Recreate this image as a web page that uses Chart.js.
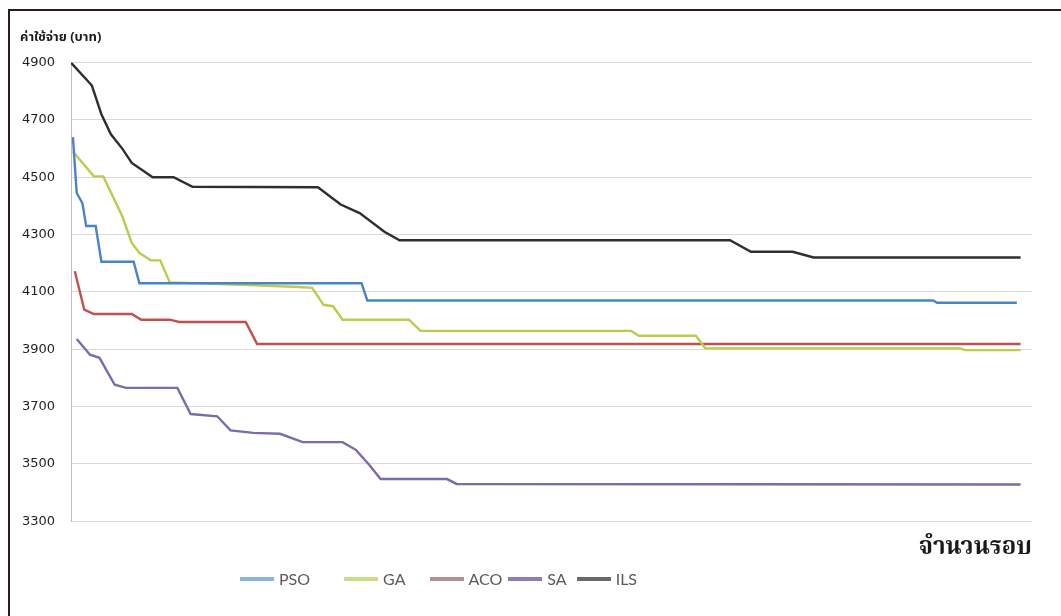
<!DOCTYPE html>
<html>
<head>
<meta charset="utf-8">
<script src="https://cdn.jsdelivr.net/npm/chart.js@4.4.1/dist/chart.umd.min.js"></script>
<style>
  html, body { margin: 0; padding: 0; background: #fff; }
  #wrap { position: relative; width: 1061px; height: 616px; overflow: hidden; }
  #frame { position: absolute; left: 8px; top: 9px; right: -4px; bottom: -4px;
           border-left: 2px solid #2b1b1d; border-top: 2px solid #2b1b1d; pointer-events: none; }
  #legend { position: absolute; top: 569px; left: 240px; display: flex; align-items: center;
            font-family: Lato, 'Open Sans', sans-serif; font-size: 16px; color: #5a5a5a; }
  #legend .item { display: flex; align-items: center; }
  #legend .sw { width: 34px; height: 4px; margin-right: 5px; }
</style>
</head>
<body>
<div id="wrap">
  <canvas id="chart" width="1061" height="616"></canvas>
  <div id="frame"></div>
  <div id="legend"></div>
</div>
<script>
/* ── Data (iteration, best cost) ─────────────────────────── */
const seriesNames = ['PSO', 'GA', 'ACO', 'SA', 'ILS'];
const yTicks = [3300, 3500, 3700, 3900, 4100, 4300, 4500, 4700, 4900];

const psoIter = [1, 3, 6, 8, 13, 16, 33, 36, 153, 156, 454, 456, 498];
const psoCost = [4640, 4445, 4410, 4330, 4330, 4205, 4205, 4130, 4130, 4070, 4070, 4062, 4062];

const gaIter = [1, 12, 17, 27, 32, 36, 42, 47, 52, 90, 120, 127, 133, 138, 143, 178, 184, 295, 299, 329, 334, 468, 471, 500];
const gaCost = [4590, 4503, 4503, 4364, 4271, 4236, 4210, 4210, 4133, 4125, 4117, 4114, 4055, 4050, 4003, 4003, 3964, 3964, 3947, 3947, 3903, 3903, 3897, 3897];

const acoIter = [2, 7, 12, 32, 37, 52, 57, 92, 98, 500];
const acoCost = [4172, 4038, 4023, 4023, 4003, 4003, 3995, 3995, 3918, 3918];

const saIter = [3, 10, 15, 23, 29, 56, 63, 77, 84, 96, 110, 122, 143, 150, 157, 163, 198, 203, 500];
const saCost = [3936, 3881, 3870, 3776, 3765, 3765, 3674, 3666, 3617, 3608, 3605, 3576, 3576, 3549, 3497, 3447, 3447, 3430, 3428];

const ilsIter = [0, 11, 16, 21, 27, 32, 43, 54, 64, 130, 142, 152, 165, 173, 347, 358, 380, 391, 500];
const ilsCost = [4900, 4820, 4720, 4650, 4600, 4550, 4500, 4500, 4467, 4465, 4405, 4375, 4310, 4280, 4280, 4240, 4240, 4220, 4220];

const lineColors = ['#4a84c6', '#bccb4c', '#c0504d', '#7d6aaa', '#2e2e2e'];
const legendColors = ['#8fb2dc', '#c9dc86', '#b48f8c', '#8d7cbc', '#6a6a6a'];

function pairs(xs, ys) {
  return xs.map((x, i) => ({ x, y: ys[i] }));
}

const allSeries = [
  pairs(psoIter, psoCost),
  pairs(gaIter, gaCost),
  pairs(acoIter, acoCost),
  pairs(saIter, saCost),
  pairs(ilsIter, ilsCost)
];

const datasets = allSeries.map((data, i) => ({
  label: seriesNames[i],
  data,
  borderColor: lineColors[i],
  backgroundColor: lineColors[i],
  borderWidth: 2.4,
  pointRadius: 0,
  tension: 0,
  fill: false
}));

/* ── Chart ───────────────────────────────────────────────── */
new Chart(document.getElementById('chart'), {
  type: 'line',
  data: { datasets },
  options: {
    responsive: false,
    animation: false,
    layout: { padding: { left: 20, right: 29, top: 0, bottom: 52 } },
    plugins: {
      legend: { display: false },
      tooltip: { enabled: false },
      title: {
        display: true,
        text: 'ค่าใช้จ่าย (บาท)',
        align: 'start',
        color: '#1a1a1a',
        font: { family: "'Noto Sans Thai', 'Noto Sans', sans-serif", size: 13, weight: 'bold' },
        padding: { top: 31, bottom: 16 }
      }
    },
    scales: {
      x: {
        type: 'linear',
        min: 0,
        max: 506,
        ticks: { display: false },
        grid: { display: false, drawTicks: false },
        border: { display: false },
        title: {
          display: true,
          text: 'จำนวนรอบ',
          align: 'end',
          color: '#1a1a1a',
          font: { family: "'Noto Serif Thai', 'Noto Sans Thai', serif", size: 24, weight: 'bold' },
          padding: { top: 14, bottom: 0 }
        }
      },
      y: {
        min: 3300,
        max: 4900,
        afterBuildTicks: (scale) => { scale.ticks = yTicks.map(v => ({ value: v })); },
        afterFit: (scale) => { scale.width = 51; },
        ticks: {
          padding: 16,
          color: '#1f1f1f',
          font: { family: "'DejaVu Sans', sans-serif", size: 13 },
          callback: (v) => String(v)
        },
        grid: { color: '#d9d9d9', lineWidth: 1, drawTicks: false },
        border: { display: true, color: '#bdbdbd', width: 1 }
      }
    }
  }
});

/* ── HTML legend ─────────────────────────────────────────── */
const legendEl = document.getElementById('legend');
const gaps = [34, 24, 6, 10, 0];
seriesNames.forEach((name, i) => {
  const item = document.createElement('div');
  item.className = 'item';
  item.style.marginRight = gaps[i] + 'px';
  item.innerHTML = '<span class="sw" style="background:' + legendColors[i] + '"></span><span>' + name + '</span>';
  legendEl.appendChild(item);
});
</script>
</body>
</html>
